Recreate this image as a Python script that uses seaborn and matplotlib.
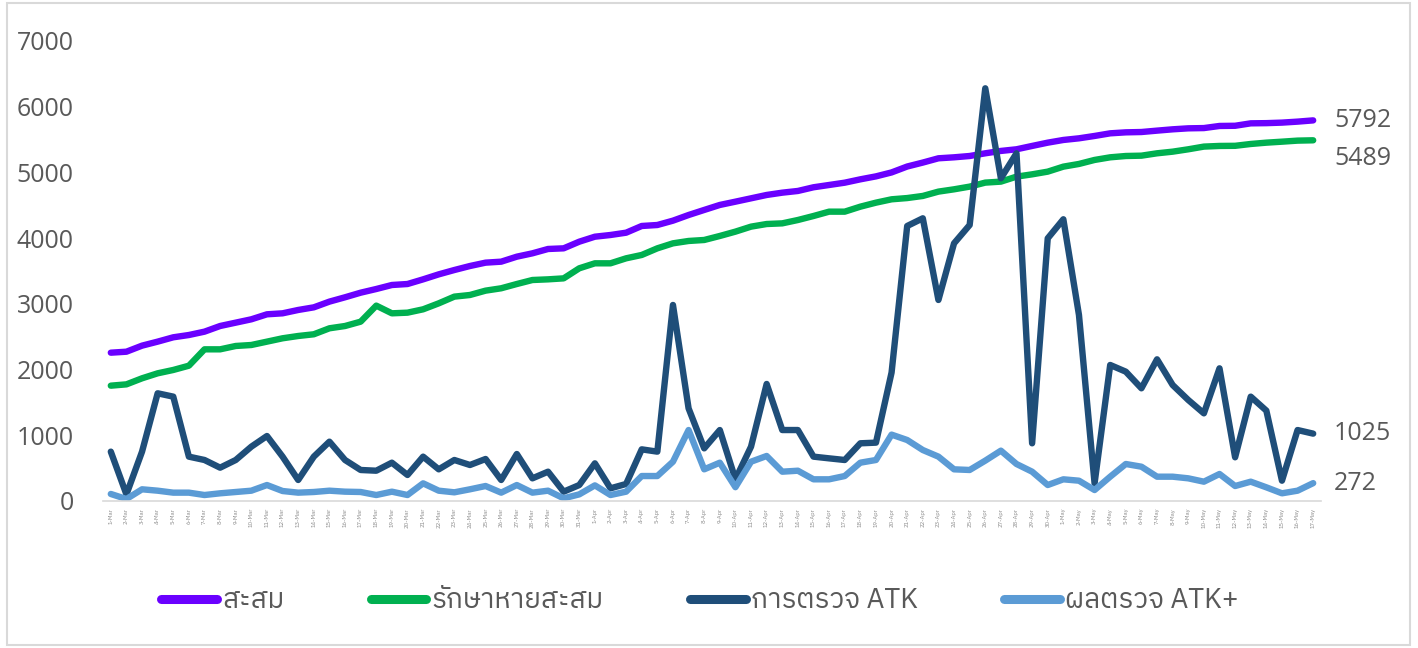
import matplotlib
matplotlib.use("Agg")
import matplotlib.pyplot as plt
import seaborn as sns
import pandas as pd
import numpy as np
from matplotlib import font_manager
from matplotlib.patches import Rectangle

# ---------------- data ----------------
dates = ([f"{d}-Mar" for d in range(1, 32)] +
         [f"{d}-Apr" for d in range(1, 31)] +
         [f"{d}-May" for d in range(1, 18)])

cumulative = [2257, 2272, 2364, 2425, 2491, 2526, 2577, 2663, 2714, 2765,
              2841, 2856, 2907, 2947, 3034, 3100, 3170, 3226, 3287, 3302,
              3373, 3449, 3515, 3576, 3627, 3642, 3718, 3769, 3835, 3845,
              3946, 4022, 4048, 4083, 4185, 4200, 4266, 4352, 4429, 4505,
              4555, 4606, 4657, 4692, 4718, 4774, 4809, 4844, 4895, 4940,
              5000, 5090, 5150, 5215, 5230, 5250, 5291, 5327, 5352, 5403,
              5453, 5494, 5519, 5555, 5595, 5610, 5615, 5636, 5656, 5671,
              5675, 5707, 5710, 5747, 5750, 5758, 5773, 5792]

recovered = [1755, 1775, 1867, 1943, 1994, 2059, 2308, 2308, 2359, 2374,
             2425, 2476, 2511, 2537, 2628, 2663, 2729, 2973, 2856, 2866,
             2917, 3008, 3110, 3135, 3201, 3237, 3302, 3363, 3373, 3388,
             3541, 3617, 3617, 3693, 3744, 3845, 3921, 3957, 3972, 4033,
             4099, 4175, 4215, 4225, 4276, 4337, 4403, 4403, 4479, 4540,
             4591, 4610, 4642, 4708, 4743, 4784, 4845, 4860, 4936, 4971,
             5012, 5088, 5129, 5190, 5230, 5250, 5255, 5291, 5316, 5352,
             5393, 5403, 5405, 5433, 5453, 5468, 5484, 5489]

atk_tests = [751, 100, 751, 1639, 1588, 675, 624, 507, 624, 827,
             989, 675, 320, 675, 903, 624, 472, 461, 583, 396,
             675, 482, 624, 548, 639, 320, 715, 345, 446, 142,
             243, 573, 193, 259, 786, 751, 2983, 1410, 801, 1080,
             330, 827, 1781, 1080, 1080, 675, 649, 624, 878, 888,
             1955, 4185, 4302, 3059, 3921, 4200, 6280, 4911, 5291, 878,
             3997, 4287, 2831, 269, 2070, 1968, 1715, 2156, 1765, 1537,
             1334, 2019, 665, 1588, 1375, 309, 1080, 1025]

atk_positive = [107, 30, 178, 157, 127, 127, 91, 117, 137, 157,
                243, 152, 127, 137, 157, 142, 137, 91, 142, 91,
                269, 157, 132, 178, 228, 127, 243, 127, 157, 41,
                101, 238, 91, 142, 380, 380, 598, 1080, 482, 583,
                210, 598, 685, 446, 461, 330, 330, 380, 583, 624,
                1010, 928, 776, 675, 482, 472, 614, 766, 563, 446,
                243, 330, 309, 167, 370, 563, 522, 370, 370, 345,
                294, 411, 228, 294, 208, 117, 157, 272]

series_names = ["สะสม", "รักษาหายสะสม", "การตรวจ ATK", "ผลตรวจ ATK+"]
series_colors = ["#6A00FF", "#00B050", "#1F4E79", "#5B9BD5"]
end_label_dy = [0, -13, 0, 0]   # points, vertical nudge of end labels
yticks = [0, 1000, 2000, 3000, 4000, 5000, 6000, 7000]

# ---------------- fonts ----------------
def find_thai_family():
    try:
        from fontTools.ttLib import TTFont
    except Exception:
        return None
    cands = []
    for f in font_manager.fontManager.ttflist:
        try:
            tt = TTFont(f.fname, fontNumber=0, lazy=True)
            cmap = tt.getBestCmap()
            if cmap and 0x0E2A in cmap and 0x0E21 in cmap and 0x0E31 in cmap:
                cands.append(f.name)
        except Exception:
            pass
    pref = [c for c in cands if "Sans" in c and "Thai" in c] + \
           [c for c in cands if "Sans" in c] + cands
    return pref[0] if pref else None

sns.set_theme(style="white")
thai = find_thai_family()
num_font = "Open Sans"
fam = ([thai] if thai else []) + ["Open Sans", "DejaVu Sans"]
plt.rcParams["font.family"] = fam

TXT = "#595959"

# ---------------- frame ----------------
rows = []
for name, vals in zip(series_names, [cumulative, recovered, atk_tests, atk_positive]):
    for i, v in enumerate(vals):
        rows.append({"idx": i, "value": v, "series": name})
df = pd.DataFrame(rows)

fig = plt.figure(figsize=(14.18, 6.48), dpi=100)
ax = fig.add_axes([103 / 1418, (648 - 501) / 648, 1218 / 1418, 460 / 648])

sns.lineplot(data=df, x="idx", y="value", hue="series", hue_order=series_names,
             palette=series_colors, linewidth=4.6, ax=ax, legend=True,
             estimator=None, sort=False)
for ln in ax.get_lines():
    ln.set_solid_capstyle("round")
    ln.set_solid_joinstyle("round")

ax.set_xlim(-0.5, len(dates) - 0.5)
ax.set_ylim(0, 7000)
ax.set_xlabel("")
ax.set_ylabel("")
ax.set_yticks(yticks)
ax.set_yticklabels([str(t) for t in yticks], fontsize=18, color=TXT,
                   fontfamily=num_font)
ax.tick_params(axis="y", length=0, pad=21)
ax.set_xticks(range(len(dates)))
ax.set_xticklabels(dates, rotation=90, fontsize=4.2, color="#8C8C8C")
ax.tick_params(axis="x", length=3, width=0.6, color="#D9D9D9", pad=2, direction="out")
ax.grid(False)
for s in ["top", "right", "left"]:
    ax.spines[s].set_visible(False)
ax.spines["bottom"].set_color("#D9D9D9")
ax.spines["bottom"].set_linewidth(1.2)

# end labels
last = len(dates) - 1
for vals, dy in zip([cumulative, recovered, atk_tests, atk_positive], end_label_dy):
    ax.annotate(str(vals[-1]), xy=(last, vals[-1]), xytext=(15, dy),
                textcoords="offset points", va="center", ha="left",
                fontsize=18, color=TXT, fontfamily=num_font,
                annotation_clip=False)

# legend
handles, labels = ax.get_legend_handles_labels()
for h in handles:
    h.set_linewidth(6.5)
    h.set_solid_capstyle("round")
leg = ax.legend(handles, labels, loc="center", ncol=4, frameon=False,
                bbox_to_anchor=(700 / 1418, (648 - 601) / 648),
                bbox_transform=fig.transFigure, fontsize=20,
                handlelength=2.0, handletextpad=0.2, columnspacing=3.1)
for t in leg.get_texts():
    t.set_color(TXT)

# outer border
fig.patches.append(Rectangle((7 / 1418, 3 / 648), 1403 / 1418, 642 / 648,
                             transform=fig.transFigure, fill=False,
                             edgecolor="#D9D9D9", linewidth=1.5))

fig.savefig("out.png", dpi=100)
